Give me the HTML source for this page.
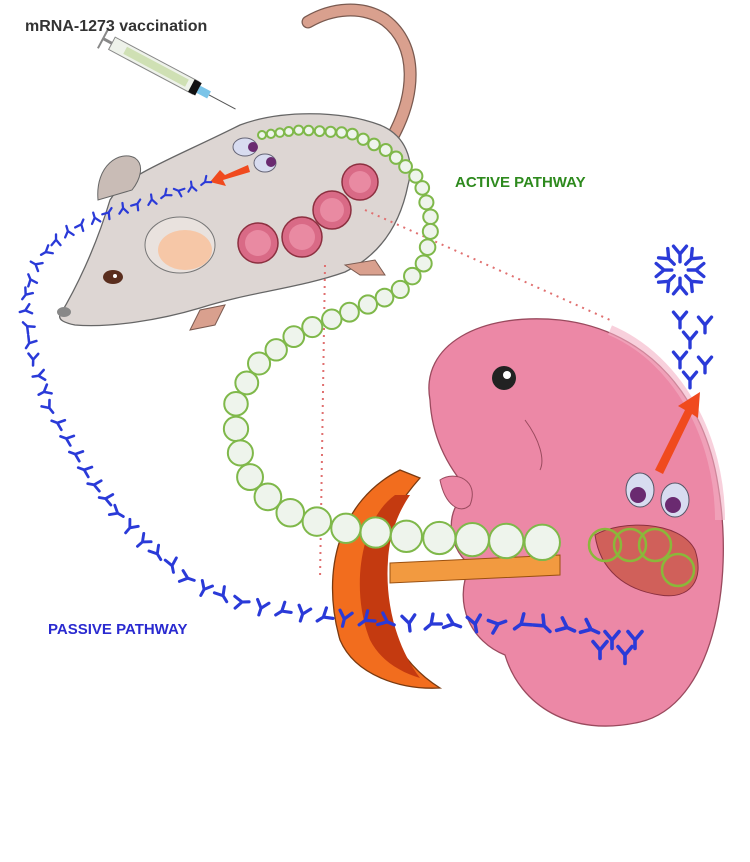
<!DOCTYPE html>
<html><head><meta charset="utf-8"><style>
body{margin:0;background:#fff;width:750px;height:862px;overflow:hidden;font-family:"Liberation Sans",sans-serif}
svg{display:block}
</style></head><body>
<svg id="s" width="750" height="862" viewBox="0 0 750 862" xmlns="http://www.w3.org/2000/svg">
<rect width="750" height="862" fill="#fff"/>
<!-- tail -->
<path d="M388,145 C418,95 418,45 385,20 C362,5 332,8 308,22" fill="none" stroke="#7a5a50" stroke-width="13" stroke-linecap="round"/>
<path d="M388,145 C418,95 418,45 385,20 C362,5 332,8 308,22" fill="none" stroke="#d9a08e" stroke-width="10.5" stroke-linecap="round"/>
<!-- mouse body -->
<path d="M60,315 C75,290 95,250 110,200 C125,175 170,160 240,125 C280,110 340,110 380,125 C405,135 415,160 408,185 C400,225 380,255 345,272 C300,288 250,292 200,308 C160,320 110,328 75,325 C65,323 58,320 60,315Z" fill="#ddd6d3" stroke="#666" stroke-width="1.3"/>
<!-- ear -->
<path d="M98,200 C95,165 120,150 135,158 C145,165 140,180 132,190Z" fill="#c9bcb6" stroke="#666"/>
<ellipse cx="180" cy="245" rx="35" ry="28" fill="#e9e2de" stroke="#777"/>
<ellipse cx="185" cy="250" rx="27" ry="20" fill="#f6c7a7"/>
<ellipse cx="113" cy="277" rx="10" ry="7" fill="#5a2e1e"/>
<circle cx="115" cy="276" r="2" fill="#fff"/>
<ellipse cx="64" cy="312" rx="7" ry="5" fill="#888"/>
<!-- legs -->
<path d="M345,265 L360,275 L385,275 L375,260Z" fill="#d9a08e" stroke="#7a5a50"/>
<path d="M200,310 L190,330 L215,325 L225,305Z" fill="#d9a08e" stroke="#7a5a50"/>
<!-- uterus pups -->
<g fill="#d96a86" stroke="#8c3040" stroke-width="1.5">
<circle cx="258" cy="243" r="20"/><circle cx="302" cy="237" r="20"/><circle cx="332" cy="210" r="19"/><circle cx="360" cy="182" r="18"/>
</g>
<g fill="#e98aa2"><circle cx="258" cy="243" r="13"/><circle cx="302" cy="237" r="13"/><circle cx="332" cy="210" r="12"/><circle cx="360" cy="182" r="11"/></g>
<!-- syringe -->
<g transform="rotate(28 160 70)">
<rect x="105" y="62" width="95" height="14" fill="#eef2ea" stroke="#888"/>
<rect x="120" y="65" width="70" height="8" fill="#cfe0b4"/>
<rect x="195" y="62" width="8" height="14" fill="#111"/>
<rect x="203" y="65" width="12" height="8" fill="#7bc4e8"/>
<line x1="215" y1="69" x2="245" y2="69" stroke="#555"/>
<line x1="95" y1="69" x2="105" y2="69" stroke="#888" stroke-width="3"/>
<line x1="95" y1="58" x2="95" y2="80" stroke="#888" stroke-width="2"/>
</g>
<!-- cells -->
<ellipse cx="245" cy="147" rx="12" ry="9" fill="#d8dcf0" stroke="#667"/><circle cx="253" cy="147" r="5" fill="#6a2a70"/>
<ellipse cx="265" cy="163" rx="11" ry="9" fill="#d8dcf0" stroke="#667"/><circle cx="271" cy="162" r="5" fill="#6a2a70"/>
<path d="M248,165 L225,175 L220,170 L210,182 L226,186 L223,180 L250,172Z" fill="#f04a1e"/>
<!-- dotted lines -->
<g stroke="#e07070" stroke-width="2" stroke-dasharray="2,5" fill="none">
<line x1="325" y1="265" x2="320" y2="580"/>
<line x1="365" y1="210" x2="610" y2="320"/>
</g>
<!-- embryo -->
<path d="M430,400 C420,345 480,312 560,320 C650,330 705,400 718,485 C735,585 712,705 640,722 C570,738 520,705 505,655 C472,642 452,605 470,565 C445,545 445,505 470,492 C450,470 432,440 430,400Z" fill="#ec88a6" stroke="#9a4a5e" stroke-width="1.3"/>
<path d="M610,330 C680,360 720,440 720,520" fill="none" stroke="#f4b0c4" stroke-width="10" opacity=".6"/>
<circle cx="504" cy="378" r="12" fill="#222"/><circle cx="507" cy="375" r="4" fill="#fff"/>
<path d="M440,480 C455,470 480,480 470,505 C460,515 445,505 440,480Z" fill="#ec88a6" stroke="#9a4a5e"/>
<path d="M525,420 C540,440 545,460 540,470" fill="none" stroke="#9a4a5e"/>
<ellipse cx="640" cy="490" rx="14" ry="17" fill="#d8dcf0" stroke="#556"/><circle cx="638" cy="495" r="8" fill="#6a2a70"/>
<ellipse cx="675" cy="500" rx="14" ry="17" fill="#d8dcf0" stroke="#556"/><circle cx="673" cy="505" r="8" fill="#6a2a70"/>
<path d="M655,470 L685,410 L678,406 L700,392 L698,418 L692,414 L663,474Z" fill="#f04a1e"/>
<path d="M595,535 C620,520 680,520 695,550 C705,580 690,600 660,595 C625,590 600,570 595,535Z" fill="#d0605a" stroke="#8c3040"/>
<!-- placenta -->
<path d="M400,470 C340,500 320,570 340,640 C355,675 400,690 440,688 C395,660 375,610 380,560 C385,520 405,495 420,478Z" fill="#f26d1e" stroke="#7a3a10" stroke-width="1.3"/>
<path d="M395,495 C360,520 350,590 370,640 C380,660 400,672 420,678 C395,645 385,600 388,560 C390,530 400,510 410,495Z" fill="#c43a10"/>
<path d="M390,563 L560,555 L560,575 L390,583Z" fill="#f29a40" stroke="#9a5010"/>
<g id="chain"></g>
<g id="abs"></g>
<g id="cl"></g>
<text x="25" y="31" font-size="16" font-weight="bold" fill="#333">mRNA-1273 vaccination</text>
<text x="455" y="187" font-size="15" font-weight="bold" fill="#2e8a1e">ACTIVE PATHWAY</text>
<text x="48" y="634" font-size="15" font-weight="bold" fill="#2a2ad0">PASSIVE PATHWAY</text>
</svg>
<script>
var NS="http://www.w3.org/2000/svg";
function along(pts,step){var out=[];var acc=0;for(var i=0;i<pts.length-1;i++){var a=pts[i],b=pts[i+1];var dx=b[0]-a[0],dy=b[1]-a[1],L=Math.hypot(dx,dy);var t=acc;while(t<L){out.push([a[0]+dx*t/L,a[1]+dy*t/L,Math.atan2(dy,dx)]);t+=step;}acc=t-L;}return out;}
var g=document.getElementById('chain');
var cp=[[262,135],[300,130],[350,133],[390,152],[420,180],[432,222],[425,262],[398,292],[350,312],[300,332],[260,362],[236,400],[236,442],[252,482],[282,510],[330,526],[400,536],[480,540],[560,543]];
var pts=along(cp,1);var tot=pts.length;var pos=0;
while(pos<tot){var p=pts[Math.floor(pos)];var f=pos/tot;var r=4+f*14;var c=document.createElementNS(NS,'circle');c.setAttribute('cx',p[0]);c.setAttribute('cy',p[1]);c.setAttribute('r',r);c.setAttribute('fill','#eef4ec');c.setAttribute('stroke','#7fb84a');c.setAttribute('stroke-width',2);g.appendChild(c);pos+=r*2+1;}
[[605,545],[630,545],[655,545],[678,570]].forEach(function(p){var c=document.createElementNS(NS,'circle');c.setAttribute('cx',p[0]);c.setAttribute('cy',p[1]);c.setAttribute('r',16);c.setAttribute('fill','none');c.setAttribute('stroke','#8ab83a');c.setAttribute('stroke-width',2.5);g.appendChild(c);});
function Y(parent,x,y,ang,s,col){var e=document.createElementNS(NS,'path');e.setAttribute('d','M0,'+(6*s)+' L0,0 M0,0 L'+(-5*s)+','+(-6*s)+' M0,0 L'+(5*s)+','+(-6*s));e.setAttribute('stroke',col||'#2a3ad8');e.setAttribute('stroke-width',2.6*s);e.setAttribute('fill','none');e.setAttribute('stroke-linecap','round');e.setAttribute('transform','translate('+x+','+y+') rotate('+ang+')');parent.appendChild(e);}
var ab=document.getElementById('abs');
var ap=[[205,182],[150,200],[100,215],[60,235],[35,265],[24,300],[30,350],[50,410],[90,480],[140,540],[200,588],[260,608],[330,618],[420,624],[520,624],[600,630]];
var ps=along(ap,1);var n=ps.length;var k=0;
while(k<n){var p=ps[k];var f=k/n;var s=0.8+f*0.6;Y(ab,p[0],p[1],(k%2?20:-20)+p[2]*57.3-90+(k%3)*60,s);k+=Math.round(14+f*10);}
Y(ab,600,650,0,1.4);Y(ab,625,655,0,1.4);Y(ab,612,640,0,1.4);Y(ab,635,640,0,1.4);
var cl=document.getElementById('cl');
for(var i=0;i<8;i++){var a=i*45;Y(cl,680+Math.cos(a/57.3)*16,270+Math.sin(a/57.3)*16,a+90,1.3);}
[[680,320],[705,325],[690,340],[680,360],[705,365],[690,380]].forEach(function(p){Y(cl,p[0],p[1],0,1.3);});
</script>
</body></html>
